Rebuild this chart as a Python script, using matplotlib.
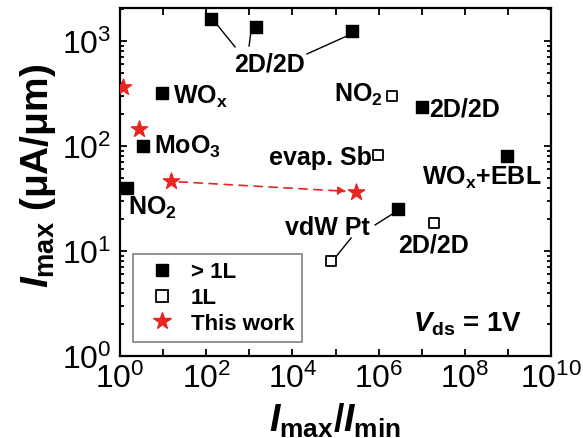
import matplotlib
matplotlib.use("Agg")
import matplotlib.pyplot as plt
import numpy as np
from matplotlib.ticker import LogLocator, FixedLocator, NullFormatter
from matplotlib.lines import Line2D

plt.rcParams['font.family'] = ['Liberation Sans', 'DejaVu Sans']
plt.rcParams['mathtext.fontset'] = 'custom'
plt.rcParams['mathtext.rm'] = 'Liberation Sans'
plt.rcParams['mathtext.it'] = 'Liberation Sans:italic:bold'
plt.rcParams['mathtext.bf'] = 'Liberation Sans:bold'

# ---- data ----
multi_x = [129, 1430, 2.4e5, 9.4, 3.4, 1.45, 1.0e7, 9.5e8, 2.8e6]
multi_y = [1620, 1360, 1245, 320, 100, 40, 235, 80, 25]
mono_x = [2.0e6, 9.7e5, 7.9e4, 1.9e7]
mono_y = [300, 82, 8.0, 18.5]
work_x = [1.17, 2.76, 15, 3.0e5]
work_y = [365, 145, 46, 36.5]
legend_labels = ['> 1L', '1L', 'This work']
xtick_exps = list(range(0, 11))

RED = '#e8251f'

fig = plt.figure(figsize=(5.83, 4.39), dpi=100)
ax = fig.add_axes([0.206, 0.187, 0.739, 0.7925])
ax.set_xscale('log'); ax.set_yscale('log')
ax.set_xlim(1, 1e10); ax.set_ylim(1, 2060)

ax.scatter(multi_x, multi_y, marker='s', s=74, color='black', zorder=3)
ax.scatter(mono_x, mono_y, marker='s', s=50, facecolor='white', edgecolor='black', linewidth=1.3, zorder=3)
ax.scatter(work_x, work_y, marker='*', s=150, color=RED, zorder=4)

# dashed arrow between this-work points
ax.annotate('', xy=(work_x[3], work_y[3]), xytext=(work_x[2], work_y[2]),
            arrowprops=dict(arrowstyle='-|>', color=RED, ls=(0, (5, 4)), lw=1.2,
                            shrinkA=6, shrinkB=7, mutation_scale=12))

tk = dict(fontsize=18, fontweight='bold', color='black', va='baseline')
lk = dict(color='black', lw=1)

# 2D/2D top with leader lines
ax.text(3000, 518, '2D/2D', ha='center', **tk)
ax.plot([188, 466], [1390, 877], **lk)
ax.plot([1096, 985], [1245, 896], **lk)
ax.plot([1.85e5, 2.18e4], [1116, 752], **lk)

ax.text(17, 257, r'WO$_\mathbf{x}$', ha='left', **tk)
ax.text(6.15, 86, r'MoO$_\mathbf{3}$', ha='left', **tk)
ax.text(1.53, 22.5, r'NO$_\mathbf{2}$', ha='left', **tk)
ax.text(1.27e6, 268, r'NO$_\mathbf{2}$', ha='right', **tk)
ax.text(1.48e7, 193, '2D/2D', ha='left', **tk)
ax.text(7.0e5, 67.4, 'evap. Sb', ha='right', **tk)
ax.text(1.0e7, 43.5, r'WO$_\mathbf{x}$+EBL', ha='left', **tk)
ax.text(6.3e5, 14.5, 'vdW Pt', ha='right', **tk)
ax.plot([8.3e5, 2.5e6], [17.7, 23.5], **lk)
ax.plot([2.3e5, 9.8e4], [13.3, 8.6], **lk)
ax.text(1.93e7, 9.8, '2D/2D', ha='center', **tk)
ax.text(6.3e6, 1.73, r'$V_{\mathbf{ds}}$ = 1V', ha='left', va='baseline', fontsize=20, fontweight='bold')

# axes styling
for s in ax.spines.values():
    s.set_linewidth(1.6)
ax.xaxis.set_major_locator(FixedLocator([10.0**k for k in xtick_exps]))
def xfmt(v, pos):
    k = int(round(np.log10(v)))
    return r'$\mathdefault{10^{%d}}$' % k if k % 2 == 0 else ''
ax.xaxis.set_major_formatter(plt.FuncFormatter(xfmt))
ax.xaxis.set_minor_locator(plt.NullLocator())
ax.yaxis.set_major_locator(LogLocator(base=10, numticks=10))
ax.yaxis.set_minor_locator(LogLocator(base=10, subs=np.arange(2, 10), numticks=10))
ax.yaxis.set_minor_formatter(NullFormatter())
ax.tick_params(which='both', direction='in', top=True, right=True, labelsize=23, width=1.3)
ax.tick_params(which='major', length=5)
ax.tick_params(which='minor', length=3)
ax.tick_params(axis='x', which='major', pad=5)
ax.tick_params(axis='y', which='major', pad=6)

ax.set_xlabel(r'$I_{\mathbf{max}}$/$I_{\mathbf{min}}$', fontsize=27, fontweight='bold')
ax.set_ylabel(r'$I_{\mathbf{max}}$ (μA/μm)', fontsize=28, fontweight='bold')
ax.xaxis.set_label_coords(0.498, -0.185, transform=ax.transAxes)
ax.yaxis.set_label_coords(-0.19, 0.52, transform=ax.transAxes)
ax.xaxis.label.set_va('center'); ax.yaxis.label.set_va('center')

handles = [Line2D([], [], marker='s', color='black', ls='', ms=9),
           Line2D([], [], marker='s', mfc='white', mec='black', mew=1.3, ls='', ms=8),
           Line2D([], [], marker='*', color=RED, ls='', ms=13)]
leg = ax.legend(handles, legend_labels, loc='lower left',
                bbox_to_anchor=(0.03, 0.04), borderaxespad=0,
                prop={'weight': 'bold', 'size': 16},
                fancybox=False, edgecolor='gray', framealpha=1, handletextpad=0.35,
                handlelength=1.9, borderpad=0.35, labelspacing=0.22)
leg.get_frame().set_linewidth(1.2)

fig.savefig('out.png', dpi=100)
